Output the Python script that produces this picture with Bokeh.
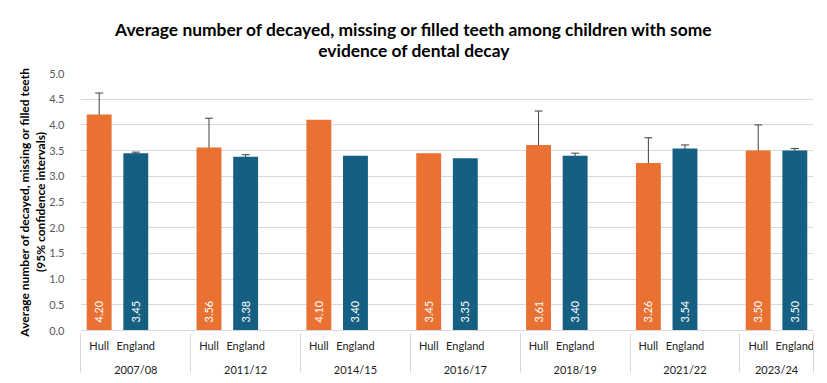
import math
from bokeh.plotting import figure
from bokeh.layouts import column
from bokeh.models import (ColumnDataSource, FactorRange, Range1d, Whisker, TeeHead,
                          NumeralTickFormatter, SingleIntervalTicker)
from bokeh.core.properties import value
from bokeh.embed import file_html
from bokeh.resources import INLINE

# ---- data ----
years = ["2007/08", "2011/12", "2014/15", "2016/17", "2018/19", "2021/22", "2023/24"]
areas = ["Hull", "England"]
hull = [4.20, 3.56, 4.10, 3.45, 3.61, 3.26, 3.50]
england = [3.45, 3.38, 3.40, 3.35, 3.40, 3.54, 3.50]
hull_lower = [3.78, 3.00, None, None, 2.97, 2.77, 2.97]
hull_upper = [4.62, 4.13, None, None, 4.27, 3.75, 4.00]
eng_lower = [3.43, 3.35, None, None, 3.37, 3.51, 3.47]
eng_upper = [3.47, 3.42, None, None, 3.45, 3.61, 3.54]
y_ticks_step = 0.5
y_max = 5.0

title_lines = ["Average number of decayed, missing or filled teeth among children with some",
               "evidence of dental decay"]
y_label_lines = ["Average number of decayed, missing or filled teeth",
                 "(95% confidence intervals)"]

FONT = "Lato"
ORANGE = "#E97132"
BLUE = "#156082"
W = 827
TITLE_H = 65
MAIN_H = 318
BORDER_L = 80
BORDER_R = 14

# ---- title strip (x data units = pixels, so the title is centred on the whole width) ----
pt = figure(width=W, height=TITLE_H, x_range=Range1d(BORDER_L, W - BORDER_R),
            y_range=Range1d(TITLE_H, 0), output_backend="svg", toolbar_location=None,
            min_border_left=BORDER_L, min_border_right=BORDER_R, min_border_top=0,
            min_border_bottom=0, x_axis_type=None, y_axis_type=None)
pt.xgrid.grid_line_color = None
pt.ygrid.grid_line_color = None
pt.outline_line_color = None
title_src = ColumnDataSource(dict(x=[W / 2] * len(title_lines),
                                  y=[29 + 21 * i for i in range(len(title_lines))],
                                  text=title_lines))
pt.text(x="x", y="y", text="text", source=title_src, text_align="center",
        text_baseline="alphabetic", text_font=value(FONT), text_font_size="17.4px",
        text_font_style="bold", text_color="black")

# ---- factors (a blank slot after each group except the last; hidden pads at both ends) ----
factors = [(" ", " ")]
for i, yr in enumerate(years):
    factors += [(yr, a) for a in areas]
    if i < len(years) - 1:
        factors.append((yr, " "))
factors.append(("  ", " "))

xs, tops, cols, labs = [], [], [], []
for yr, h, e in zip(years, hull, england):
    for a, v, c in (("Hull", h, ORANGE), ("England", e, BLUE)):
        xs.append((yr, a)); tops.append(v); cols.append(c); labs.append(f"{v:.2f}")
src = ColumnDataSource(dict(x=xs, top=tops, color=cols, label=labs))

ex, elo, eup = [], [], []
for yr, hl, hu, el, eu in zip(years, hull_lower, hull_upper, eng_lower, eng_upper):
    if hl is not None:
        ex.append((yr, "Hull")); elo.append(hl); eup.append(hu)
    if el is not None:
        ex.append((yr, "England")); elo.append(el); eup.append(eu)
err_src = ColumnDataSource(dict(x=ex, lower=elo, upper=eup))

p = figure(x_range=FactorRange(*factors, factor_padding=0, subgroup_padding=0,
                               group_padding=0, range_padding=-0.99,
                               range_padding_units="absolute"),
           y_range=Range1d(0, y_max),
           width=W, height=MAIN_H, output_backend="svg", toolbar_location=None,
           min_border_left=BORDER_L, min_border_right=BORDER_R, min_border_top=8,
           min_border_bottom=53)

p.vbar(x="x", top="top", width=0.68, fill_color="color", line_color=None, source=src)
p.text(x="x", y=0, text="label", angle=math.pi / 2, text_align="left", text_baseline="middle",
       y_offset=-8, text_color="white", text_font=value(FONT), text_font_size="11px", source=src)

p.add_layout(Whisker(source=err_src, base="x", lower="lower", upper="upper",
                     line_color="#404040", line_width=1,
                     upper_head=TeeHead(size=8, line_color="#404040", line_width=1),
                     lower_head=TeeHead(size=8, line_color="#404040", line_width=1)))

xa = p.xaxis[0]
xa.axis_line_color = "#d9d9d9"
xa.major_tick_line_color = None
xa.major_tick_out = 0
xa.major_tick_in = 0
xa.minor_tick_line_color = None
xa.major_label_text_font = FONT
xa.major_label_text_font_size = "11px"
xa.major_label_text_color = "#222222"
xa.group_text_font = FONT
xa.group_text_font_size = "11px"
xa.group_text_color = "#222222"
xa.group_text_font_style = "normal"
xa.separator_line_color = "#d9d9d9"
xa.separator_line_width = 1
xa.major_label_standoff = 8

ya = p.yaxis[0]
ya.ticker = SingleIntervalTicker(interval=y_ticks_step)
ya.formatter = NumeralTickFormatter(format="0.0")
ya.axis_line_color = None
ya.major_tick_line_color = None
ya.major_tick_out = 0
ya.major_tick_in = 0
ya.minor_tick_line_color = None
ya.major_label_text_font = FONT
ya.major_label_text_font_size = "11px"
ya.major_label_text_color = "#595959"
ya.major_label_standoff = 12
ya.axis_label = "\n".join(y_label_lines)
ya.axis_label_text_font = FONT
ya.axis_label_text_font_size = "12px"
ya.axis_label_text_font_style = "bold"
ya.axis_label_text_color = "black"
ya.axis_label_text_line_height = 1.05
ya.axis_label_standoff = -2

p.ygrid.grid_line_color = "#d9d9d9"
p.xgrid.grid_line_color = None
p.outline_line_color = None

layout = column(pt, p, spacing=0)
open("out.html", "w").write(file_html(layout, INLINE))
